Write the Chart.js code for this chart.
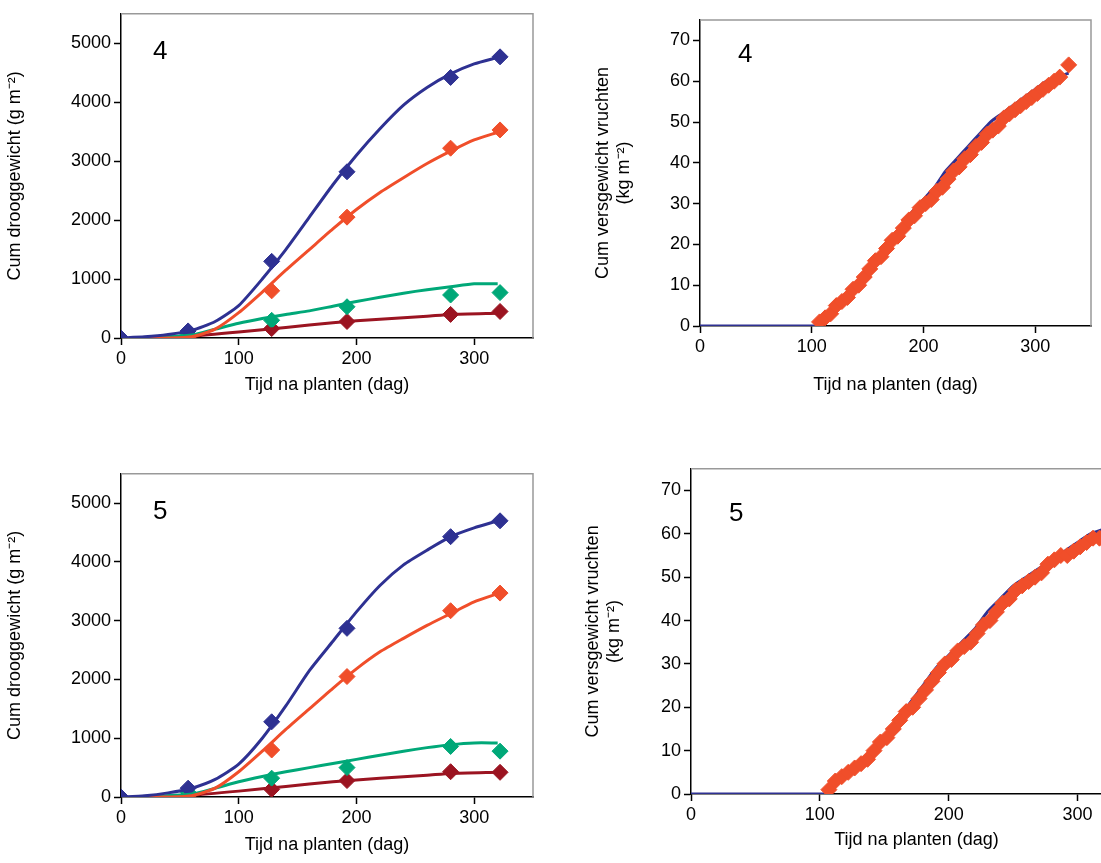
<!DOCTYPE html>
<html><head><meta charset="utf-8">
<script src="https://cdn.jsdelivr.net/npm/chart.js@4"></script>
<style>
body{margin:0;width:1101px;height:863px;overflow:hidden;background:#fff;position:relative}
canvas{position:absolute}
</style></head><body>
<canvas id="c1" style="left:0;top:0" width="545" height="400"></canvas>
<canvas id="c2" style="left:0;top:460px" width="545" height="400"></canvas>
<canvas id="c3" style="left:588px;top:0" width="512" height="400"></canvas>
<canvas id="c4" style="left:578px;top:455px" width="573" height="400"></canvas>
<script>
// ---- Panel 4 (left): dry weight model lines and measurements
const tl_blueLine=[[0,0],[20,20],[40,60],[60,130],[80,280],[100,550],[120,1000],[140,1500],[160,2050],[180,2600],[200,3100],[220,3550],[240,3950],[260,4250],[280,4480],[300,4650],[320,4760]];
const tl_blueMeas=[[0,0],[57,120],[128,1300],[192,2820],[280,4420],[322,4770]];
const tl_orgLine=[[20,0],[40,0],[60,20],[80,150],[100,430],[120,780],[140,1150],[160,1500],[180,1850],[200,2180],[220,2470],[240,2720],[260,2960],[280,3170],[300,3360],[320,3490]];
const tl_orgMeas=[[57,0],[128,800],[192,2050],[280,3220],[322,3530]];
const tl_grnLine=[[20,0],[60,50],[80,150],[100,250],[120,330],[140,400],[160,460],[180,540],[200,620],[220,690],[240,760],[260,820],[280,870],[300,920],[320,920]];
const tl_grnMeas=[[57,60],[128,300],[192,530],[280,730],[322,770]];
const tl_redLine=[[20,0],[60,30],[100,100],[140,180],[180,260],[220,320],[260,370],[280,400],[320,420]];
const tl_redMeas=[[57,30],[128,160],[192,280],[280,400],[322,450]];
// ---- Panel 5 (left)
const bl_blueLine=[[0,0],[20,20],[40,70],[60,150],[80,300],[100,560],[120,1000],[140,1550],[160,2150],[180,2650],[200,3150],[220,3600],[240,3950],[260,4200],[280,4430],[300,4580],[320,4700]];
const bl_blueMeas=[[0,0],[57,150],[128,1280],[192,2870],[280,4430],[322,4700]];
const bl_orgLine=[[20,0],[40,0],[60,20],[80,150],[100,430],[120,780],[140,1150],[160,1500],[180,1850],[200,2180],[220,2470],[240,2700],[260,2920],[280,3120],[300,3320],[320,3460]];
const bl_orgMeas=[[57,0],[128,800],[192,2050],[280,3170],[322,3470]];
const bl_grnLine=[[20,0],[60,50],[80,150],[100,260],[120,350],[140,430],[160,500],[180,570],[200,640],[220,710],[240,780],[260,840],[280,890],[300,920],[320,920]];
const bl_grnMeas=[[57,80],[128,320],[192,500],[280,860],[322,780]];
const bl_redLine=[[20,0],[60,30],[100,100],[140,180],[180,260],[220,320],[260,370],[280,400],[320,420]];
const bl_redMeas=[[57,30],[128,130],[192,280],[280,430],[322,420]];
// ---- Right panels: fruit fresh weight
const tr_model=[[0,0],[105,0],[110,1],[120,4],[130,6],[140,9],[150,13],[160,17],[170,20],[180,24],[190,28],[200,31],[210,34],[220,38],[230,41],[240,44],[250,47],[260,50],[270,52],[280,54],[290,56],[300,58],[310,60],[320,61],[330,62]];
const tr_meas=[[107,1],[112,2],[117,3],[122,5],[127,6],[132,7],[137,9],[142,10],[147,12],[152,14],[157,16],[162,17],[167,19],[172,21],[177,22],[182,24],[187,26],[192,27],[197,29],[202,30],[207,31],[212,33],[217,34],[222,36],[227,38],[232,39],[237,41],[242,42],[247,44],[252,45],[257,47],[262,48],[267,49],[272,51],[277,52],[282,53],[287,54],[292,55],[297,56],[302,57],[307,58],[312,59],[317,60],[322,61],[330,64]];
const br_model=[[0,0],[105,0],[110,2],[120,5],[130,7],[140,10],[150,13],[160,17],[170,21],[180,25],[190,29],[200,32],[210,35],[220,38],[230,42],[240,45],[250,48],[260,50],[270,52],[280,54],[290,56],[300,58],[310,60],[320,61],[330,62]];
const br_meas=[[107,1],[112,3],[117,4],[122,5],[127,6],[132,7],[137,8],[142,10],[147,12],[152,13],[157,15],[162,17],[167,19],[172,20],[177,22],[182,24],[187,26],[192,28],[197,30],[202,31],[207,33],[212,34],[217,35],[222,37],[227,39],[232,40],[237,42],[242,44],[247,45],[252,47],[257,48],[262,49],[267,50],[272,51],[277,53],[282,54],[287,55],[292,55],[297,56],[302,57],[307,58],[312,59],[317,59],[322,60],[330,63]];
const xTicks=[0,100,200,300];
const yTicksLeft=[0,1000,2000,3000,4000,5000];
const yTicksRight=[0,10,20,30,40,50,60,70];

const BLUE='#2e3192',ORG='#f04e2a',GRN='#00a878',RED='#9b1421';
const pts=a=>a.map(p=>({x:p[0],y:p[1]}));
const line=(d,c,w=3)=>({type:'line',data:pts(d),borderColor:c,borderWidth:w,pointRadius:0,tension:0.2,fill:false});
const meas=(d,c,r=8)=>({type:'scatter',data:pts(d),pointStyle:'rectRot',pointRadius:r,backgroundColor:c,borderColor:c,showLine:false});
const F='"Liberation Sans", Arial, sans-serif';
const frame={id:'frame',afterDraw(ch,a,o){const c=ch.ctx,ca=ch.chartArea;c.save();c.strokeStyle='#999';c.lineWidth=1.5;c.beginPath();c.moveTo(ca.left,ca.top);c.lineTo(ca.right,ca.top);c.lineTo(ca.right,ca.bottom);c.stroke();
c.fillStyle='#000';c.font='26px '+F;c.fillText(o.label,ca.left+o.dx,ca.top+o.dy);c.restore();}};
function make(id,ds,ymax,yt,ytitle,yw,xh,pad,label,dx,dy){
 new Chart(document.getElementById(id),{type:'line',data:{datasets:ds},plugins:[frame],
 options:{responsive:false,animation:false,layout:{padding:pad},
 plugins:{legend:{display:false},tooltip:{enabled:false},frame:{label,dx,dy}},
 scales:{x:{type:'linear',min:0,max:350,afterBuildTicks:s=>{s.ticks=xTicks.map(v=>({value:v}));},
  grid:{drawOnChartArea:false,tickLength:7,color:'#000',tickWidth:1.5},border:{color:'#000',width:1.5},
  ticks:{color:'#000',font:{family:F,size:18},maxRotation:0,autoSkip:false,callback:v=>String(v)},title:{display:true,text:'Tijd na planten (dag)',color:'#000',font:{family:F,size:18},padding:{top:2}},
  afterFit:s=>{s.height=xh;}},
 y:{min:0,max:ymax,afterBuildTicks:s=>{s.ticks=yt.map(v=>({value:v}));},ticks:{color:'#000',font:{family:F,size:18},autoSkip:false,callback:v=>String(v)},
  grid:{drawOnChartArea:false,tickLength:7,color:'#000',tickWidth:1.5},border:{color:'#000',width:1.5},
  title:{display:true,text:ytitle,color:'#000',font:{family:F,size:18},padding:{bottom:6}},afterFit:s=>{s.width=yw;}}}}});
}
make('c1',[line(tl_blueLine,BLUE),line(tl_orgLine,ORG),line(tl_grnLine,GRN),line(tl_redLine,RED),meas(tl_blueMeas,BLUE),meas(tl_orgMeas,ORG),meas(tl_grnMeas,GRN),meas(tl_redMeas,RED)],5500,yTicksLeft,'Cum drooggewicht (g m⁻²)',121,62,{top:10,right:12},'4',32,45);
make('c2',[line(bl_blueLine,BLUE),line(bl_orgLine,ORG),line(bl_grnLine,GRN),line(bl_redLine,RED),meas(bl_blueMeas,BLUE),meas(bl_orgMeas,ORG),meas(bl_grnMeas,GRN),meas(bl_redMeas,RED)],5500,yTicksLeft,'Cum drooggewicht (g m⁻²)',121,63,{top:11,right:12},'5',32,45);
make('c3',[meas(tr_meas,ORG,8),line(tr_model,BLUE,3)],75,yTicksRight,['Cum versgewicht vruchten','(kg m⁻²)'],112,74,{top:20,right:0},'4',38,42);
make('c4',[meas(br_meas,ORG,8),line(br_model,BLUE,3)],75,yTicksRight,['Cum versgewicht vruchten','(kg m⁻²)'],113,61,{top:10,right:0},'5',38,52);
</script></body></html>
